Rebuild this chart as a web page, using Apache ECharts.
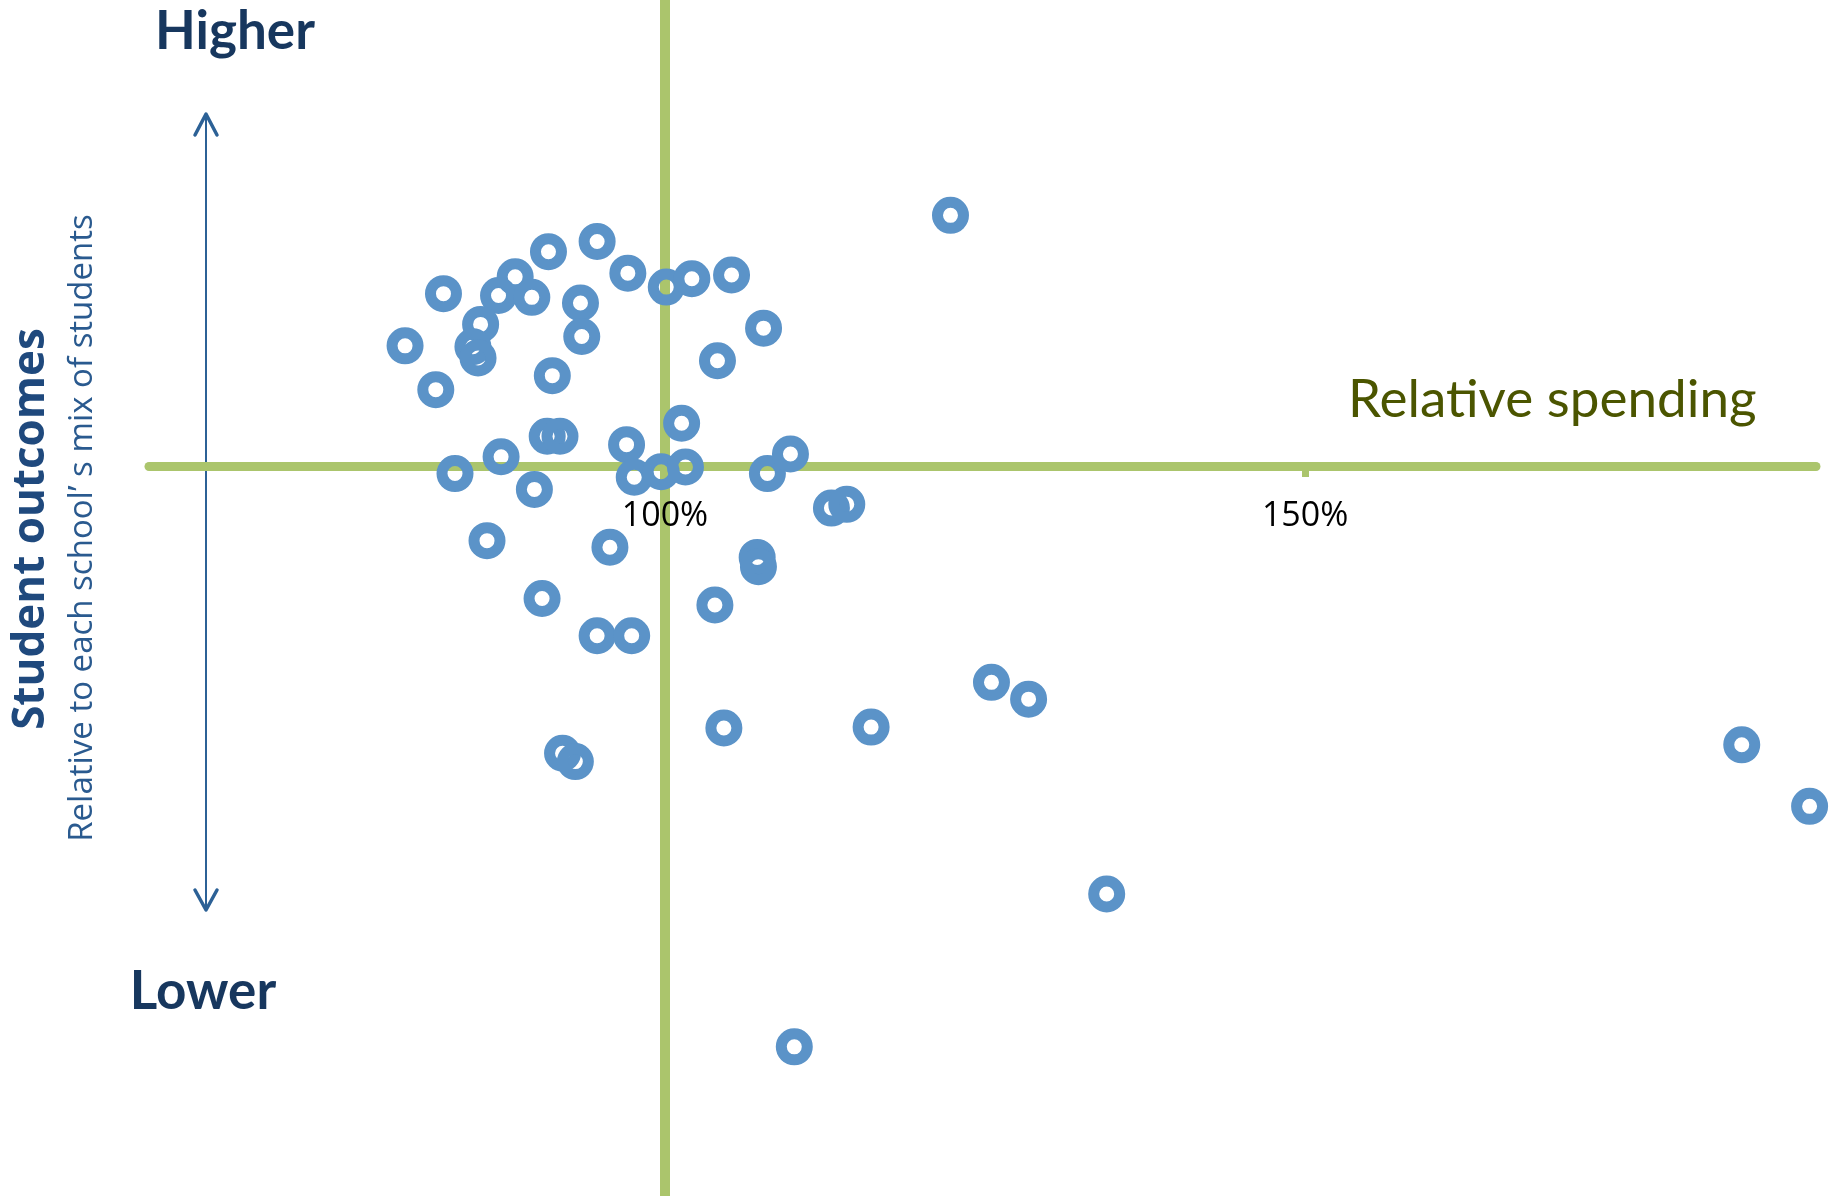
<!DOCTYPE html>
<html>
<head>
<meta charset="utf-8">
<title>Relative spending vs student outcomes</title>
<script src="https://cdn.jsdelivr.net/npm/echarts@6/dist/echarts.min.js"></script>
<style>
  html, body { margin: 0; padding: 0; background: #fff; }
  #main { width: 1835px; height: 1196px; }
</style>
</head>
<body>
<div id="main"></div>
<script>
// relative spending of each school (%), 100 = average
const spending = [122.3, 82.7, 79.7, 82.1, 88.3, 87.0, 89.6, 90.9, 94.7, 97.1, 100.1, 102.1, 105.2,
  85.6, 85.0, 85.4, 93.4, 93.5, 91.2, 107.7, 104.1, 101.3, 90.8, 91.8, 87.2, 83.6, 89.8,
  97.0, 97.6, 99.7, 101.6, 108.0, 109.8, 113.0, 114.2, 86.1, 95.7, 107.2, 107.3, 90.4,
  103.9, 94.7, 97.4, 92.0, 93.0, 104.6, 116.1, 125.5, 128.4, 134.5, 184.1, 189.4, 110.1];
// student outcomes relative to each school's mix of students (0 = expected)
const outcomes = [26.9, 18.5, 12.9, 8.2, 20.3, 18.3, 18.1, 23.0, 24.1, 20.7, 19.2, 20.1, 20.5,
  15.2, 12.8, 11.6, 17.5, 13.9, 9.7, 14.8, 11.3, 4.6, 3.2, 3.2, 1.0, -0.8, -2.5,
  2.3, -1.2, -0.6, -0.1, -0.8, 1.3, -4.5, -4.1, -8.0, -8.7, -9.8, -10.8, -14.2,
  -14.9, -18.2, -18.2, -30.8, -31.7, -28.1, -28.0, -23.2, -25.0, -45.9, -29.9, -36.5, -62.3];
const xTicks = [100, 150];
const averageSpend = 100;

const green = '#abc56c';
const blue = '#5b93c8';

const points = spending.map((v, i) => [v, outcomes[i]]);

const chart = echarts.init(document.getElementById('main'));

// fixed decorations: arrow and the free-standing texts
const decorations = [
  { type: 'line', shape: { x1: 206, y1: 114, x2: 206, y2: 910 }, style: { stroke: '#2c6196', lineWidth: 2 } },
  { type: 'polyline', shape: { points: [[195, 135], [206, 114], [217, 135]] },
    style: { stroke: '#2c6196', lineWidth: 3.5, fill: null, lineCap: 'round', lineJoin: 'round' } },
  { type: 'polyline', shape: { points: [[195, 890], [206, 910], [217, 890]] },
    style: { stroke: '#2c6196', lineWidth: 3.5, fill: null, lineCap: 'round', lineJoin: 'round' } },
  { type: 'text', x: 235, y: 32,
    style: { text: 'Higher', fill: '#17375e', font: 'bold 53px Lato, sans-serif', textAlign: 'center', textVerticalAlign: 'middle' } },
  { type: 'text', x: 203, y: 992,
    style: { text: 'Lower', fill: '#17375e', font: 'bold 53px Lato, sans-serif', textAlign: 'center', textVerticalAlign: 'middle' } },
  { type: 'text', x: 1348, y: 400,
    style: { text: 'Relative spending', fill: '#4b5500', font: '53px Lato, sans-serif', textAlign: 'left', textVerticalAlign: 'middle' } },
  { type: 'text', x: 31, y: 529, rotation: Math.PI / 2,
    style: { text: 'Student outcomes', fill: '#1f497d', font: 'bold 44px "Open Sans", sans-serif', textAlign: 'center', textVerticalAlign: 'middle' } },
  { type: 'text', x: 83, y: 528, rotation: Math.PI / 2,
    style: { text: 'Relative to each school’ s mix of students', fill: '#2a5a8f', font: '33px "Open Sans", sans-serif', textAlign: 'center', textVerticalAlign: 'middle' } }
];

const option = {
  animation: false,
  grid: { left: 149, right: 19, top: 0, bottom: 0, containLabel: false, outerBoundsMode: 'none' },
  xAxis: {
    type: 'value',
    min: 59.7,
    max: 189.9,
    splitLine: { show: false },
    axisLine: { onZero: true, lineStyle: { color: green, width: 9 } },
    axisTick: { customValues: xTicks, length: 11, lineStyle: { color: green, width: 7 } },
    axisLabel: { show: false }
  },
  yAxis: {
    type: 'value',
    min: -78.3,
    max: 50,
    show: false,
    splitLine: { show: false }
  },
  series: [{
    type: 'scatter',
    data: points,
    clip: false,
    symbol: 'circle',
    symbolSize: 26,
    itemStyle: { color: 'transparent', borderColor: blue, borderWidth: 11, opacity: 1 },
    markLine: {
      z: 1,
      silent: true,
      symbol: 'none',
      label: { show: false },
      lineStyle: { color: green, width: 10, type: 'solid' },
      data: [{ xAxis: averageSpend }]
    }
  }],
  graphic: decorations
};

chart.setOption(option);

// tick labels sit just under the zero line, placed through the axis scale
const tickLabels = xTicks.map(v => {
  const p = chart.convertToPixel({ gridIndex: 0 }, [v, 0]);
  return {
    type: 'text', x: p[0], y: p[1] + 50, z: 10,
    style: { text: v + '%', fill: '#000', font: '34px "Open Sans", sans-serif', textAlign: 'center', textVerticalAlign: 'middle' }
  };
});
chart.setOption({ graphic: decorations.concat(tickLabels) });
</script>
</body>
</html>
